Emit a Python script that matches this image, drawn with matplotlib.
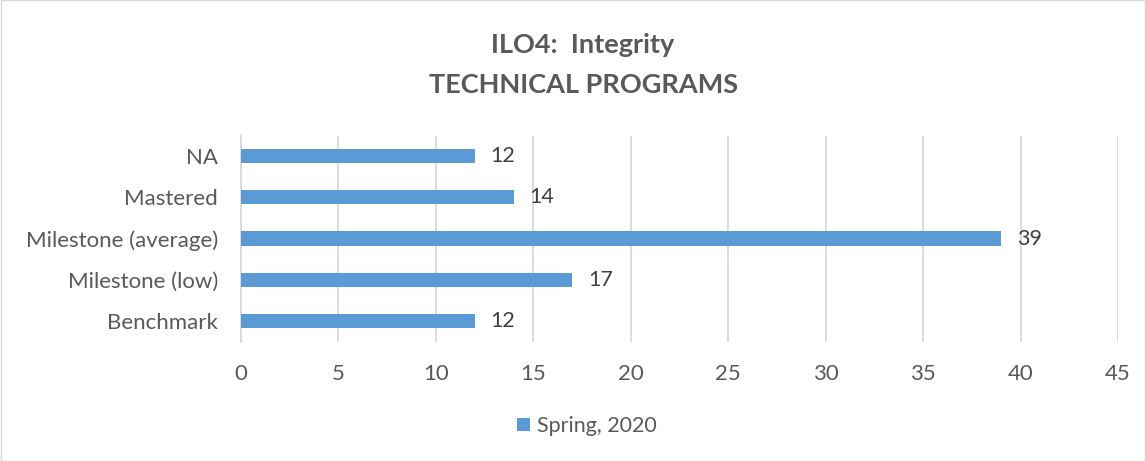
import matplotlib
matplotlib.use("Agg")
import matplotlib.pyplot as plt
from matplotlib.patches import Rectangle

categories = ["Benchmark", "Milestone (low)", "Milestone (average)", "Mastered", "NA"]
values = [12, 17, 39, 14, 12]
series_name = "Spring, 2020"
xticks = [0, 5, 10, 15, 20, 25, 30, 35, 40, 45]
title_lines = ["ILO4:  Integrity", "TECHNICAL PROGRAMS"]

plt.rcParams['font.family'] = ['Lato', 'DejaVu Sans']
txt = '#595959'
fig = plt.figure(figsize=(11.45, 4.61), dpi=100)
ax = fig.add_axes([241/1145, 1-341.5/461, (1118-241)/1145, 206/461])

bars = ax.barh(range(len(categories)), values, height=0.34, color='#5B9BD5', label=series_name, zorder=3)
for i, v in enumerate(values):
    ax.text(v + 0.8, i, str(v), va='center', ha='left', fontsize=15.5, color='#404040')

ax.set_xlim(0, 45)
ax.set_ylim(-0.5, len(categories) - 0.5)
ax.set_xticks(xticks)
ax.set_yticks(range(len(categories)))
ax.set_yticklabels(categories)
ax.tick_params(axis='both', length=0, labelsize=16, colors=txt)
ax.tick_params(axis='x', pad=16.5)
ax.tick_params(axis='y', pad=16.5)
ax.grid(axis='x', color='#D9D9D9', linewidth=1.3, zorder=0)
for s in ['top', 'right', 'bottom']:
    ax.spines[s].set_visible(False)
ax.spines['left'].set_color('#D9D9D9')
ax.spines['left'].set_linewidth(1.3)

for line, ypix in zip(title_lines, [45, 85]):
    fig.text(583/1145, 1 - ypix/461, line, ha='center', va='center', fontsize=19.5, fontweight='bold',
             color=txt)

leg = fig.legend(handles=[bars], labels=[series_name], loc='center', bbox_to_anchor=(587/1145, 1 - 426/461),
                 frameon=False, fontsize=15.5, handlelength=0.6, handleheight=0.6, handletextpad=0.3,
                 labelcolor=txt)

fig.patches.append(Rectangle((0.5/1145, 0.5/461), 1 - 1/1145, 1 - 1/461, transform=fig.transFigure,
                             fill=False, edgecolor='#D9D9D9', linewidth=1))
fig.savefig("out.png", dpi=100)
